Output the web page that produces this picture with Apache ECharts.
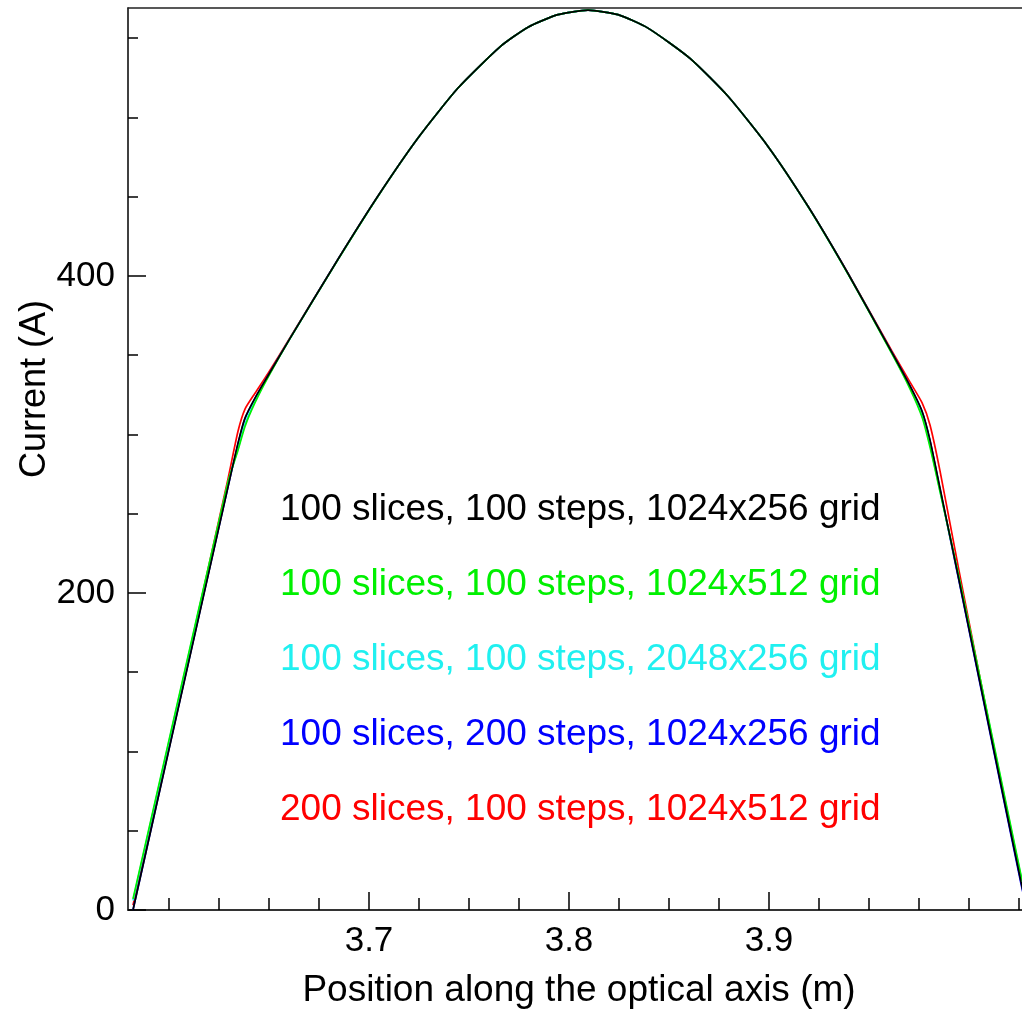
<!DOCTYPE html>
<html>
<head>
    <meta charset="utf-8">
    <title>Current along the optical axis</title>
    <script src="https://cdn.jsdelivr.net/npm/echarts@6/dist/echarts.min.js"></script>
    <style>
        html, body { margin: 0; padding: 0; background: #fff; }
    </style>
</head>
<body>
<div id="main" style="width: 1022px;height:1015px;"></div>
<script type="text/javascript">
    // position along the axis (m), shared by all runs
    var xPos = [3.5820, 3.6005, 3.6295, 3.6345, 3.6380, 3.6430, 3.6495, 3.6605, 3.6845, 3.7045,
                3.7245, 3.7445, 3.7655, 3.7795, 3.7945, 3.8095, 3.8245, 3.8395, 3.8605, 3.8795,
                3.8995, 3.9195, 3.9395, 3.9615, 3.9705, 3.9765, 3.9805, 3.9855, 3.9950, 4.0120,
                4.0260, 4.0290];

    // current (A) for each run
    var yBlack = [0, 104.1, 266.8, 294.5, 310.3, 322.9, 337.0, 360.6, 410.5, 450.4,
                  487.0, 518.5, 544.5, 556.9, 564.8, 567.6, 564.8, 556.3, 537.2, 513.3,
                  481.7, 443.9, 401.5, 351.6, 330.6, 314.7, 296.4, 266.2, 208.1, 103.4,
                  17.7, 0];
    var yGreen = [7, 110, 270, 290, 305, 320, 336, 360.4, 410.3, 450.3,
                  487.0, 518.5, 544.5, 556.9, 564.8, 567.6, 564.8, 556.3, 537.2, 513.3,
                  481.7, 443.8, 401.2, 350.8, 328.8, 311, 292, 264, 210, 107,
                  22, 5];
    var yCyan  = [6, 109, 269.5, 291, 306.5, 321, 336.5, 360.5, 410.4, 450.3,
                  487.0, 518.5, 544.5, 556.9, 564.8, 567.6, 564.8, 556.3, 537.2, 513.3,
                  481.7, 443.8, 401.3, 351.2, 329.5, 312, 293.5, 264.5, 209.5, 106,
                  21, 4];
    var yBlue  = [0, 104.5, 267, 294, 310, 322.8, 337, 360.6, 410.5, 450.4,
                  487.0, 518.5, 544.5, 556.9, 564.8, 567.6, 564.8, 556.3, 537.2, 513.3,
                  481.7, 443.9, 401.5, 351.6, 330.6, 314.5, 296, 265.5, 207.5, 102.5,
                  16.5, 0];
    var yRed   = [3, 107, 272, 302, 316, 326, 338.5, 361, 410.6, 450.4,
                  487.0, 518.5, 544.5, 556.9, 564.8, 567.6, 564.8, 556.3, 537.2, 513.3,
                  481.7, 444.0, 401.8, 352.5, 333, 320, 306, 277, 214, 105,
                  18.5, 1];

    var runNames = ['100 slices, 100 steps, 1024x256 grid',
                    '100 slices, 100 steps, 1024x512 grid',
                    '100 slices, 100 steps, 2048x256 grid',
                    '100 slices, 200 steps, 1024x256 grid',
                    '200 slices, 100 steps, 1024x512 grid'];
    var runColors = ['#000000', '#00f000', '#20f0f0', '#0000ff', '#ff0000'];

    // axis ticks
    var xMajorTicks = [3.7, 3.8, 3.9];
    var xMinorTicks = [3.600, 3.625, 3.650, 3.675, 3.725, 3.750, 3.775, 3.825, 3.850, 3.875,
                       3.925, 3.950, 3.975, 4.000, 4.025];
    var yMajorTicks = [0, 200, 400];
    var yMinorTicks = [50, 100, 150, 250, 300, 350, 450, 500, 550];

    var font = 'Liberation Sans, Arial, Helvetica, sans-serif';

    function pairs(ys) {
        return xPos.map(function (x, i) { return [x, ys[i]]; });
    }

    var runs = [yBlack, yGreen, yCyan, yBlue, yRed];
    var series = [];
    // draw red first, black last (on top)
    for (var k = runs.length - 1; k >= 0; k--) {
        series.push({
            name: runNames[k],
            type: 'line',
            data: pairs(runs[k]),
            showSymbol: false,
            smooth: 0.2,
            lineStyle: { color: runColors[k], width: 1.7 },
            itemStyle: { color: runColors[k] },
            z: 10 - k
        });
    }

    var chart = echarts.init(document.getElementById('main'));
    var option = {
        animation: false,
        backgroundColor: '#fff',
        grid: { left: 128, right: 0, top: 8, bottom: 105 },
        legend: {
            orient: 'vertical',
            left: 270,
            top: 486,
            icon: 'none',
            itemWidth: 0,
            itemGap: 38,
            selectedMode: false,
            textStyle: { fontFamily: font, fontSize: 37 },
            data: runNames.map(function (n, i) {
                return { name: n, textStyle: { color: runColors[i] } };
            })
        },
        xAxis: [{
            type: 'value',
            min: 3.5795,
            max: 4.0265,
            name: 'Position along the optical axis (m)',
            nameLocation: 'middle',
            nameGap: 62,
            nameTextStyle: { fontFamily: font, fontSize: 37, color: '#000', padding: [0, 0, 0, 8] },
            axisLine: { lineStyle: { color: '#333', width: 2 } },
            axisTick: { inside: true, length: 18, customValues: xMajorTicks, lineStyle: { color: '#000', width: 1.5 } },
            axisLabel: { customValues: xMajorTicks, margin: 14, fontFamily: font, fontSize: 35, color: '#000',
                         formatter: function (v) { return v.toFixed(1); } },
            splitLine: { show: false }
        }, {
            type: 'value',
            min: 3.5795,
            max: 4.0265,
            position: 'bottom',
            axisLine: { show: false },
            axisTick: { inside: true, length: 12, customValues: xMinorTicks, lineStyle: { color: '#000', width: 1.5 } },
            axisLabel: { show: false },
            splitLine: { show: false }
        }, {
            type: 'value',
            min: 3.5795,
            max: 4.0265,
            position: 'top',
            axisLine: { lineStyle: { color: '#222', width: 1.5 } },
            axisTick: { show: false },
            axisLabel: { show: false },
            splitLine: { show: false }
        }],
        yAxis: [{
            type: 'value',
            min: 0,
            max: 569,
            axisLine: { lineStyle: { color: '#000', width: 1.5 } },
            axisTick: { inside: true, length: 18, customValues: yMajorTicks, lineStyle: { color: '#000', width: 1.5 } },
            axisLabel: { customValues: yMajorTicks, margin: 13, fontFamily: font, fontSize: 35, color: '#000' },
            splitLine: { show: false }
        }, {
            type: 'value',
            min: 0,
            max: 569,
            position: 'left',
            axisLine: { show: false },
            axisTick: { inside: true, length: 10, customValues: yMinorTicks, lineStyle: { color: '#000', width: 1.5 } },
            axisLabel: { show: false },
            splitLine: { show: false }
        }],
        graphic: [{
            type: 'text',
            x: 35,
            y: 389,
            rotation: Math.PI / 2,
            style: {
                text: 'Current (A)',
                font: '36px ' + font,
                fill: '#000',
                align: 'center',
                verticalAlign: 'middle'
            }
        }],
        series: series
    };
    chart.setOption(option);
</script>
</body>
</html>
